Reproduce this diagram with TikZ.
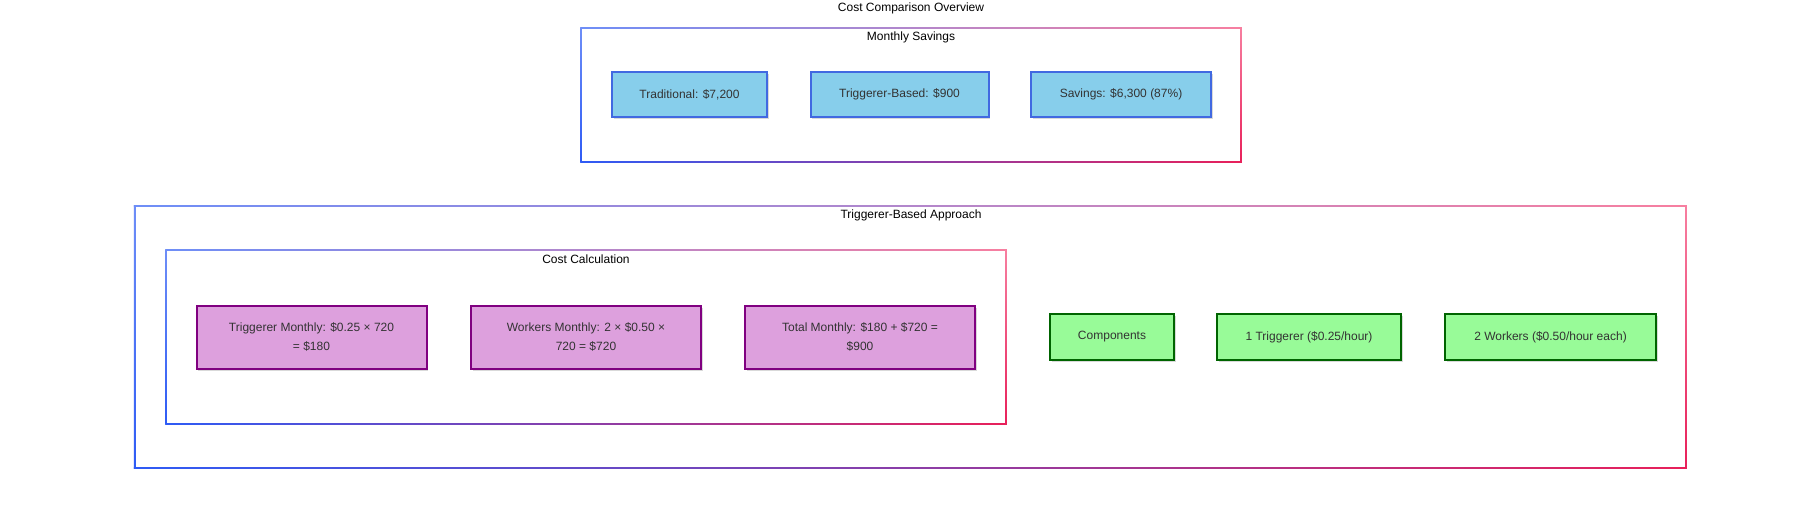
\documentclass[tikz,border=0pt]{standalone}
\usepackage{fontspec}
\setmainfont{Liberation Sans}
\usetikzlibrary{shadows}
\definecolor{gTL}{HTML}{6E8EF7}
\definecolor{gTR}{HTML}{F77FA0}
\definecolor{gBL}{HTML}{2E5BF5}
\definecolor{gBR}{HTML}{E8205A}
\definecolor{txt}{HTML}{333333}
\definecolor{bluefill}{HTML}{87CEEB}
\definecolor{bluedraw}{HTML}{4169E1}
\definecolor{purpfill}{HTML}{DDA0DD}
\definecolor{purpdraw}{HTML}{800080}
\definecolor{greenfill}{HTML}{98FB98}
\definecolor{greendraw}{HTML}{006400}
\newcommand{\gframe}[4]{%
  \shade[left color=gTL, right color=gTR] (#1-0.75,#2-0.75) rectangle (#3+0.75,#2+0.75);
  \shade[left color=gBL, right color=gBR] (#1-0.75,#4-0.75) rectangle (#3+0.75,#4+0.75);
  \shade[top color=gTL, bottom color=gBL] (#1-0.75,#2-0.75) rectangle (#1+0.75,#4+0.75);
  \shade[top color=gTR, bottom color=gBR] (#3-0.75,#2-0.75) rectangle (#3+0.75,#4+0.75);
}
\begin{document}
\begin{tikzpicture}[x=1pt,y=-1pt,
  every node/.style={font=\fontsize{12}{19}\selectfont, inner sep=0pt},
  basebox/.style={rectangle, line width=2pt, text=txt, align=center,
    drop shadow={shadow xshift=1.5pt, shadow yshift=-2pt, opacity=0.15, fill=black}},
  bluebox/.style={basebox, fill=bluefill, draw=bluedraw, minimum height=45pt},
  purpbox/.style={basebox, fill=purpfill, draw=purpdraw, minimum height=63pt, minimum width=230pt},
  greenbox/.style={basebox, fill=greenfill, draw=greendraw, minimum height=46pt},
  clabel/.style={text=black}
]
\useasboundingbox (0,0) rectangle (1803,504);
\fill[white] (0,0) rectangle (1803,504);

% title
\node[clabel] (title) at (911,8) {Cost Comparison Overview};

% Monthly Savings cluster
\gframe{581}{28}{1241}{162}
\node[clabel] (msl) at (911,37) {Monthly Savings};
\node[bluebox, minimum width=155pt] (trad) at (689.5,94.5) {Traditional: \$7,200};
\node[bluebox, minimum width=178pt] (trig) at (899.5,94.5) {Triggerer-Based: \$900};
\node[bluebox, minimum width=180pt] (sav) at (1121,94.5) {Savings: \$6,300 (87\%)};

% Triggerer-Based Approach cluster
\gframe{134.5}{206}{1686}{468}
\node[clabel] (tbl) at (911,215) {Triggerer-Based Approach};

% Cost Calculation cluster
\gframe{166}{250}{1006}{424}
\node[clabel] (ccl) at (586,259) {Cost Calculation};
\node[purpbox] (tm) at (311.5,337) {Triggerer Monthly: \$0.25 × 720\\= \$180};
\node[purpbox] (wm) at (586,337) {Workers Monthly: 2 × \$0.50 ×\\720 = \$720};
\node[purpbox] (tot) at (860,337) {Total Monthly: \$180 + \$720 =\\\$900};

% Components
\node[greenbox, minimum width=124pt] (comp) at (1112,337) {Components};
\node[greenbox, minimum width=184pt] (onet) at (1309,337) {1 Triggerer (\$0.25/hour)};
\node[greenbox, minimum width=211pt] (twow) at (1550.5,337) {2 Workers (\$0.50/hour each)};
\end{tikzpicture}
\end{document}
